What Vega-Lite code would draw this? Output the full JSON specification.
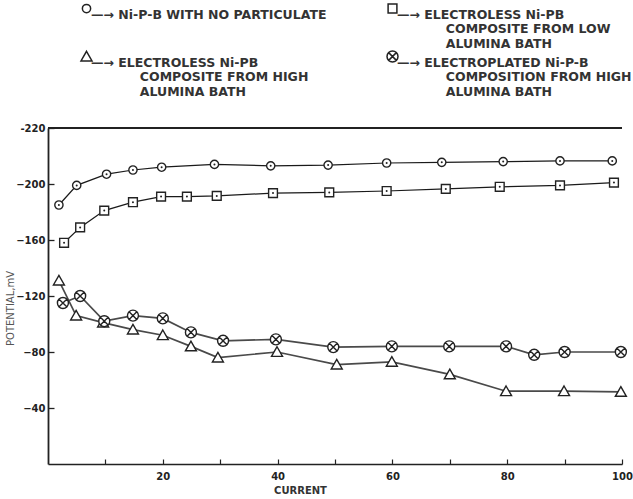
{
  "$schema": "https://vega.github.io/schema/vega-lite/v6.json",
  "autosize": {"type": "none"},
  "padding": {"left": 48, "top": 128, "right": 11, "bottom": 35},
  "width": 574,
  "height": 336,
  "background": "white",
  "config": {"view": {"stroke": null}},
  "data": {"values": [
    {"series": "A", "x": 1.9, "y": -185}, {"series": "A", "x": 5, "y": -199}, {"series": "A", "x": 10.2, "y": -207}, {"series": "A", "x": 14.8, "y": -210}, {"series": "A", "x": 19.8, "y": -212}, {"series": "A", "x": 29, "y": -214}, {"series": "A", "x": 38.8, "y": -213}, {"series": "A", "x": 48.8, "y": -213.5}, {"series": "A", "x": 59, "y": -215}, {"series": "A", "x": 68.6, "y": -215.5}, {"series": "A", "x": 79.3, "y": -216}, {"series": "A", "x": 89.2, "y": -216.5}, {"series": "A", "x": 98.3, "y": -216.5},
    {"series": "B", "x": 2.8, "y": -158}, {"series": "B", "x": 5.6, "y": -169}, {"series": "B", "x": 9.8, "y": -181}, {"series": "B", "x": 14.8, "y": -187}, {"series": "B", "x": 19.7, "y": -191}, {"series": "B", "x": 24.2, "y": -191}, {"series": "B", "x": 29.4, "y": -191.5}, {"series": "B", "x": 39.2, "y": -193.5}, {"series": "B", "x": 49, "y": -194}, {"series": "B", "x": 59, "y": -195}, {"series": "B", "x": 69.3, "y": -196.5}, {"series": "B", "x": 78.7, "y": -198}, {"series": "B", "x": 89.2, "y": -199}, {"series": "B", "x": 98.6, "y": -201},
    {"series": "C", "x": 1.9, "y": -131}, {"series": "C", "x": 4.9, "y": -106}, {"series": "C", "x": 9.6, "y": -101}, {"series": "C", "x": 14.8, "y": -96}, {"series": "C", "x": 20, "y": -92}, {"series": "C", "x": 24.9, "y": -84}, {"series": "C", "x": 29.6, "y": -76}, {"series": "C", "x": 39.9, "y": -80}, {"series": "C", "x": 50.3, "y": -71}, {"series": "C", "x": 59.9, "y": -73}, {"series": "C", "x": 70, "y": -64}, {"series": "C", "x": 79.8, "y": -52}, {"series": "C", "x": 89.9, "y": -52}, {"series": "C", "x": 99.8, "y": -51.5},
    {"series": "D", "x": 2.6, "y": -115}, {"series": "D", "x": 5.6, "y": -120}, {"series": "D", "x": 9.8, "y": -102}, {"series": "D", "x": 14.8, "y": -106}, {"series": "D", "x": 20, "y": -104}, {"series": "D", "x": 24.9, "y": -94}, {"series": "D", "x": 30.5, "y": -88}, {"series": "D", "x": 39.7, "y": -89}, {"series": "D", "x": 49.7, "y": -83.5}, {"series": "D", "x": 59.9, "y": -84}, {"series": "D", "x": 69.9, "y": -84}, {"series": "D", "x": 79.8, "y": -84}, {"series": "D", "x": 84.7, "y": -78}, {"series": "D", "x": 90, "y": -80}, {"series": "D", "x": 99.8, "y": -80}
  ]},
  "encoding": {
    "x": {"field": "x", "type": "quantitative", "scale": {"domain": [0, 100], "nice": false, "zero": false},
      "axis": {"values": [10, 20, 30, 40, 50, 60, 70, 80, 90, 100], "labelExpr": "datum.value % 20 == 0 ? datum.label : ''", "grid": false, "tickSize": -5, "labelPadding": 12, "domainColor": "#222", "domainWidth": 1.5, "tickColor": "#222", "tickWidth": 1.2, "labelFont": "DejaVu Sans", "labelFontWeight": "bold", "labelFontSize": 10, "labelColor": "#222", "title": "CURRENT", "titleFont": "DejaVu Sans", "titleFontSize": 10, "titleFontWeight": "bold", "titleColor": "#333", "titleX": 252, "titleY": 26, "titleAlign": "center", "titleBaseline": "middle", "labelFlush": false, "labelOverlap": false}},
    "y": {"field": "y", "type": "quantitative", "scale": {"domain": [0, -240], "nice": false, "zero": false},
      "axis": {"values": [-240, -200, -160, -120, -80, -40], "labelExpr": "datum.value == -240 ? '-220' : datum.label", "grid": false, "tickSize": -6, "labelPadding": 9, "domainColor": "#222", "domainWidth": 1.8, "tickColor": "#222", "tickWidth": 1.3, "labelFont": "DejaVu Sans", "labelFontWeight": "bold", "labelFontSize": 10, "labelColor": "#222", "title": "POTENTIAL,mV", "titleFont": "DejaVu Sans", "titleFontSize": 10, "titleFontWeight": "normal", "titleColor": "#555", "titleX": -38, "titleY": 180, "titleAngle": -90, "titleAlign": "center", "titleBaseline": "middle", "labelFlush": false, "labelOverlap": false}}
  },
  "layer": [
    {"mark": {"type": "rule", "color": "#222", "strokeWidth": 1.5}, "encoding": {"y": {"datum": -240}, "x": {"datum": 0}, "x2": {"datum": 100}}},
    {"transform": [{"filter": "datum.series == 'A' || datum.series == 'B'"}],
     "mark": {"type": "line", "color": "#1a1a1a", "strokeWidth": 1.25}, "encoding": {"detail": {"field": "series"}}},
    {"transform": [{"filter": "datum.series == 'C' || datum.series == 'D'"}],
     "mark": {"type": "line", "color": "#4a4a4a", "strokeWidth": 1.7}, "encoding": {"detail": {"field": "series"}}},
    {"mark": {"type": "point", "filled": true, "fill": "white", "stroke": "#222", "strokeWidth": 1.4, "opacity": 1, "size": 121},
      "encoding": {
        "shape": {"field": "series", "type": "nominal",
        "scale": {"domain": ["A", "B", "C", "D"], "range": [
          "M-0.75,0A0.75,0.75 0 1,0 0.75,0A0.75,0.75 0 1,0 -0.75,0Z",
          "M-0.8,-0.8L0.8,-0.8L0.8,0.8L-0.8,0.8Z",
          "M0,-0.95L1,0.8L-1,0.8Z",
          "M-1,0A1,1 0 1,0 1,0A1,1 0 1,0 -1,0ZM-0.7,-0.7L0.7,0.7M-0.7,0.7L0.7,-0.7"]},
        "legend": {"orient": "none", "legendX": 32, "legendY": -126, "columns": 2, "direction": "horizontal", "title": null,
          "labelExpr": "datum.value == 'A' ? ['—→ Ni-P-B WITH NO PARTICULATE', '', ''] : datum.value == 'B' ? ['—→ ELECTROLESS Ni-PB', '\u2800\u2800\u2800\u2800\u2800COMPOSITE FROM LOW', '\u2800\u2800\u2800\u2800\u2800ALUMINA BATH'] : datum.value == 'C' ? ['—→ ELECTROLESS Ni-PB', '\u2800\u2800\u2800\u2800\u2800COMPOSITE FROM HIGH', '\u2800\u2800\u2800\u2800\u2800ALUMINA BATH'] : ['—→ ELECTROPLATED Ni-P-B', '\u2800\u2800\u2800\u2800\u2800COMPOSITION FROM HIGH', '\u2800\u2800\u2800\u2800\u2800ALUMINA BATH']",
          "labelFont": "DejaVu Sans", "labelFontSize": 12.5, "labelFontWeight": "bold", "labelColor": "#333", "labelLimit": 400, "labelBaseline": "top", "labelOffset": -2,
          "symbolSize": 121, "columnPadding": 57, "rowPadding": -5,
          "encode": {"labels": {"dy": {"value": -10.5}, "lineHeight": {"value": 15}},
                     "symbols": {"stroke": {"value": "#222"}, "strokeWidth": {"value": 1.4}, "fill": {"value": "white"}, "opacity": {"value": 1}}}}}}
    },
    {"transform": [{"filter": "datum.series == 'A' || datum.series == 'B'"}],
     "mark": {"type": "point", "filled": true, "color": "#222", "size": 4, "opacity": 1}}
  ]
}
